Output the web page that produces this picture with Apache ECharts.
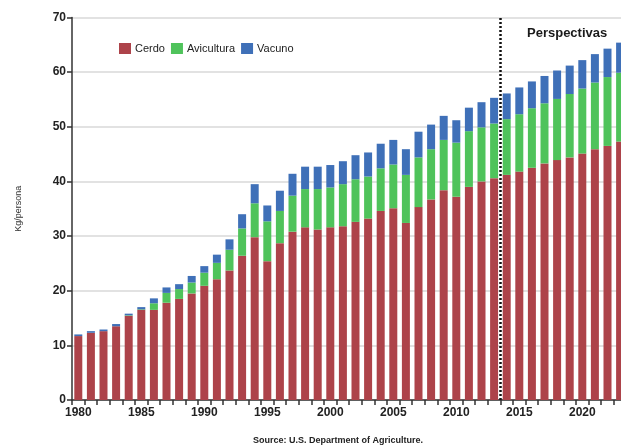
<!DOCTYPE html>
<html>
<head>
<meta charset="utf-8">
<script src="https://cdn.jsdelivr.net/npm/echarts@6/dist/echarts.min.js"></script>
<style>
html,body{margin:0;padding:0;background:#fff;}
#c{width:621px;height:448px;}
</style>
</head>
<body>
<div id="c"></div>
<script>
var years = [];
for (var y = 1980; y <= 2023; y++) years.push(String(y));

var cerdo = [11.7,12.3,12.6,13.5,15.4,16.5,16.5,17.8,18.5,19.5,20.9,22.1,23.7,26.4,29.8,25.4,28.7,30.8,31.6,31.2,31.6,31.8,32.6,33.2,34.6,35.1,32.4,35.3,36.7,38.4,37.2,39.0,40.0,40.6,41.2,41.8,42.5,43.3,43.9,44.4,45.1,45.9,46.5,47.3];
var avicultura = [0,0,0,0,0.1,0.1,1.2,1.8,1.8,2.0,2.4,3.0,3.8,5.0,6.2,7.3,5.9,6.6,7.0,7.4,7.3,7.7,7.8,7.7,7.8,8.0,8.8,9.1,9.2,9.2,9.9,10.2,9.9,10.0,10.2,10.5,10.9,11.0,11.2,11.6,11.9,12.2,12.6,12.6];
var vacuno = [0.3,0.3,0.3,0.4,0.3,0.4,0.9,1.0,0.9,1.2,1.2,1.5,1.9,2.6,3.5,2.9,3.7,4.0,4.1,4.1,4.1,4.2,4.4,4.4,4.5,4.5,4.7,4.7,4.5,4.4,4.1,4.3,4.6,4.7,4.7,4.9,4.9,5.0,5.2,5.2,5.2,5.2,5.2,5.5];
var yTicks = [0,10,20,30,40,50,60,70];
var projectionStart = 2013.5;

var chart = echarts.init(document.getElementById('c'), null, {renderer:'canvas'});
var font = 'Liberation Sans, Arial, sans-serif';
chart.setOption({
  animation:false,
  backgroundColor:'#ffffff',
  grid:{left:72, top:17.5, width:554.4, height:382.5, containLabel:false, outerBoundsMode:'none'},
  legend:{
    left:114, top:38, itemWidth:12, itemHeight:11, itemGap:6,
    icon:'rect',
    textStyle:{fontFamily:font, fontSize:11, color:'#222', padding:[0,0,0,-1]},
    data:['Cerdo','Avicultura','Vacuno']
  },
  xAxis:[{
    type:'category', data:years,
    axisLine:{show:true, lineStyle:{color:'#333', width:1.5}},
    axisTick:{show:true, interval:0, length:5, lineStyle:{color:'#333', width:1.5}},
    axisLabel:{interval:4, margin:7, fontFamily:font, fontSize:12, fontWeight:'bold', color:'#222'},
    splitLine:{show:false}
  },{
    type:'value', min:1979.5, max:2023.5, show:false
  }],
  yAxis:{
    type:'value', min:0, max:70, interval:10,
    name:'Kg/persona', nameLocation:'middle', nameGap:49, nameRotate:90,
    nameTextStyle:{fontFamily:font, fontSize:9, color:'#333'},
    axisLine:{show:true, lineStyle:{color:'#333', width:1.5}},
    axisTick:{show:true, length:5, lineStyle:{color:'#333', width:1.5}},
    axisLabel:{margin:6, fontFamily:font, fontSize:12, fontWeight:'bold', color:'#222',
      formatter:function(v){ return yTicks.indexOf(v) >= 0 ? String(v) : ''; }},
    splitLine:{show:true, lineStyle:{color:'#d9d9d9', width:1.5}}
  },
  series:[
    {name:'Cerdo', type:'bar', stack:'t', data:cerdo, barWidth:8, itemStyle:{color:'#ad434a'}},
    {name:'Avicultura', type:'bar', stack:'t', data:avicultura, barWidth:8, itemStyle:{color:'#4fc35b'}},
    {name:'Vacuno', type:'bar', stack:'t', data:vacuno, barWidth:8, itemStyle:{color:'#3f70b8'}},
    {name:'proj', type:'line', xAxisIndex:1, data:[[projectionStart,0]], showSymbol:false, symbol:'none',
     lineStyle:{opacity:0}, silent:true, legendHoverLink:false,
     markLine:{silent:true, symbol:['none','none'], label:{show:false},
       lineStyle:{color:'#111', type:[2,2], width:2.5},
       data:[{xAxis:projectionStart}]}}
  ],
  graphic:[
    {type:'text', left:527, top:27, style:{text:'Perspectivas', fontFamily:font, fontSize:13, fontWeight:'bold', fill:'#1a1a1a'}},
    {type:'text', left:253, top:436, style:{text:'Source: U.S. Department of Agriculture.', fontFamily:font, fontSize:9, fontWeight:'bold', fill:'#222'}}
  ]
});
</script>
</body>
</html>
